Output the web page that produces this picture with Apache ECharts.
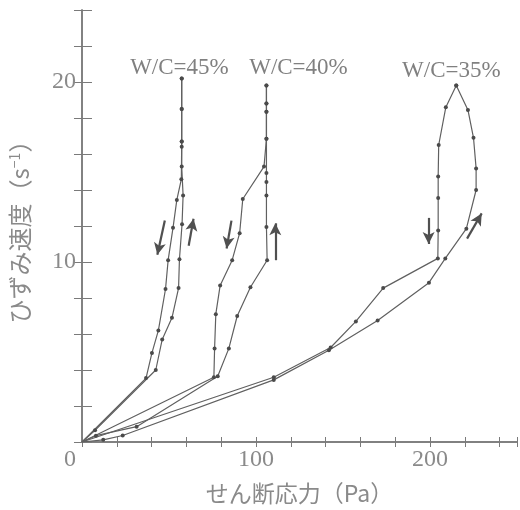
<!DOCTYPE html>
<html>
<head>
<meta charset="utf-8">
<script src="https://cdn.jsdelivr.net/npm/echarts@6/dist/echarts.min.js"></script>
<style>
  html, body {margin: 0; padding: 0; background: #fff;}
  #main {width: 520px; height: 510px;}
</style>
</head>
<body>
<div id="main"></div>
<script>
// 目盛りラベル
var xLabels = [0, 100, 200];
var yLabels = [0, 10, 20];

// W/C=45%  (せん断応力 Pa, ひずみ速度 1/s)
var wc45Up = [[0, 0], [7.5, 0.65], [42.4, 4.0], [46.1, 5.7], [51.7, 6.9], [55.5, 8.55], [56.0, 10.15],
    [57.5, 12.1], [58.1, 13.7], [57.3, 15.3], [57.3, 16.4], [57.3, 16.7], [57.3, 18.5], [57.3, 20.2]];
var wc45Down = [[57.3, 20.2], [57.3, 18.5], [57.3, 16.7], [57.1, 14.6], [54.5, 13.45], [52.3, 11.9],
    [49.5, 10.1], [48.0, 8.5], [43.9, 6.2], [40.2, 4.95], [36.8, 3.55], [0, 0]];

// W/C=40%
var wc40Up = [[0, 0], [8, 0.35], [31.4, 0.85], [78.0, 3.65], [84.4, 5.2], [89.2, 7.0], [96.8, 8.6],
    [106.4, 10.1], [106.0, 11.95], [106.0, 13.7], [106.0, 14.45], [106.0, 14.95], [106.0, 16.85],
    [106.0, 18.35], [106.0, 18.8], [106.0, 19.8]];
var wc40Down = [[106.0, 19.8], [106.0, 18.8], [106.0, 18.35], [106.0, 16.85], [104.6, 15.3], [92.4, 13.5],
    [90.6, 11.6], [86.3, 10.1], [79.4, 8.7], [76.9, 7.1], [76.2, 5.2], [75.8, 3.6], [0, 0]];

// W/C=35%
var wc35Up = [[0, 0], [12.2, 0.12], [23.4, 0.36], [110.2, 3.45], [141.9, 5.1], [169.9, 6.75], [199.4, 8.85],
    [208.8, 10.2], [220.9, 11.85], [226.5, 14.0], [226.5, 15.2], [225.0, 16.9], [221.8, 18.45], [215.1, 19.8]];
var wc35Down = [[215.1, 19.8], [209.1, 18.6], [205.0, 16.5], [204.7, 14.75], [204.7, 13.55], [204.7, 11.75],
    [204.5, 10.2], [173.1, 8.55], [157.4, 6.7], [142.9, 5.25], [110.2, 3.6], [0, 0]];

// 矢印 (始点, 終点)
var arrows = [
    [[47.6, 12.3], [43.3, 10.4]], [[61.3, 10.9], [64.1, 12.4]],
    [[85.9, 12.3], [83.1, 10.75]], [[111.1, 10.1], [111.1, 12.15]],
    [[199.2, 12.45], [199.2, 11.0]], [[221.3, 11.3], [229.7, 12.7]]
];

// 注記
var noteNames = ['W/C=45%', 'W/C=40%', 'W/C=35%'];
var notePos = [[56, 20.8], [124.4, 20.8], [212.3, 20.6]];

var lineColor = '#606060';
var textColor = '#8a8a8a';

function loopSeries(name, data) {
    return {
        name: name, type: 'line', data: data,
        symbol: 'circle',
        symbolSize: function (v) { return (v[0] === 0 && v[1] === 0) ? 0 : 4; },
        lineStyle: {color: lineColor, width: 1.2},
        itemStyle: {color: '#4a4a4a'},
        z: 3
    };
}

var axisStyle = {lineStyle: {color: '#7a7a7a', width: 1.5}};

var option = {
    backgroundColor: '#fff',
    animation: false,
    grid: {left: 75, right: -2, top: 10, bottom: 55},
    xAxis: [{
        type: 'value', min: 0, max: 250, interval: 20,
        axisLine: axisStyle,
        axisTick: {inside: true, length: 5, lineStyle: {color: '#7a7a7a'}},
        splitLine: {show: false},
        axisLabel: {
            margin: 6, color: textColor, fontFamily: 'Liberation Serif', fontSize: 24,
            formatter: function (v) {
                if (v === 0) return '{o|0}';
                return xLabels.indexOf(v) >= 0 ? String(v) : '';
            },
            rich: {o: {fontFamily: 'Liberation Serif', fontSize: 24, color: textColor, padding: [0, 24, 0, 0]}}
        },
        name: 'せん断応力（Pa）', nameLocation: 'middle', nameGap: 40,
        nameTextStyle: {color: textColor, fontFamily: 'Noto Sans CJK JP', fontSize: 23}
    }, {
        type: 'value', position: 'top', min: 0, max: 250, interval: 20,
        axisLine: axisStyle,
        axisTick: {inside: true, length: 5, lineStyle: {color: '#7a7a7a'}},
        axisLabel: {show: false}, splitLine: {show: false}
    }],
    yAxis: [{
        type: 'value', min: 0, max: 24, interval: 2,
        axisLine: axisStyle,
        axisTick: {inside: true, length: 10, lineStyle: {color: '#7a7a7a'}},
        splitLine: {show: false},
        axisLabel: {
            margin: 6, color: textColor, fontFamily: 'Liberation Serif', fontSize: 24,
            formatter: function (v) { return (v !== 0 && yLabels.indexOf(v) >= 0) ? String(v) : ''; }
        },
        name: 'ひずみ速度（s{sup|−1}）', nameLocation: 'middle', nameGap: 50,
        nameTextStyle: {
            color: textColor, fontFamily: 'Noto Sans CJK JP', fontSize: 24,
            rich: {sup: {color: textColor, fontFamily: 'Noto Sans CJK JP', fontSize: 14, verticalAlign: 'top', padding: [0, 0, 10, 0]}}
        }
    }, {
        type: 'value', position: 'right', min: 0, max: 24, interval: 2,
        axisLine: axisStyle,
        axisTick: {inside: true, length: 8, lineStyle: {color: '#7a7a7a'}},
        axisLabel: {show: false}, splitLine: {show: false}
    }],
    series: [
        loopSeries('45up', wc45Up), loopSeries('45down', wc45Down),
        loopSeries('40up', wc40Up), loopSeries('40down', wc40Down),
        loopSeries('35up', wc35Up), loopSeries('35down', wc35Down),
        {
            type: 'line', data: [], silent: true,
            markLine: {
                silent: true, animation: false,
                symbol: ['none', 'arrow'], symbolSize: [9, 12],
                label: {show: false},
                lineStyle: {color: '#505050', width: 2.2, type: 'solid'},
                data: arrows.map(function (a) { return [{coord: a[0]}, {coord: a[1]}]; })
            }
        },
        {
            type: 'scatter', symbolSize: 0, silent: true,
            data: notePos.map(function (p, i) { return {value: p, name: noteNames[i]}; }),
            label: {
                show: true, position: 'inside', formatter: '{b}',
                color: '#606060', fontFamily: 'Liberation Serif', fontSize: 23
            }
        }
    ]
};

var myChart = echarts.init(document.getElementById('main'));
myChart.setOption(option);
</script>
</body>
</html>
